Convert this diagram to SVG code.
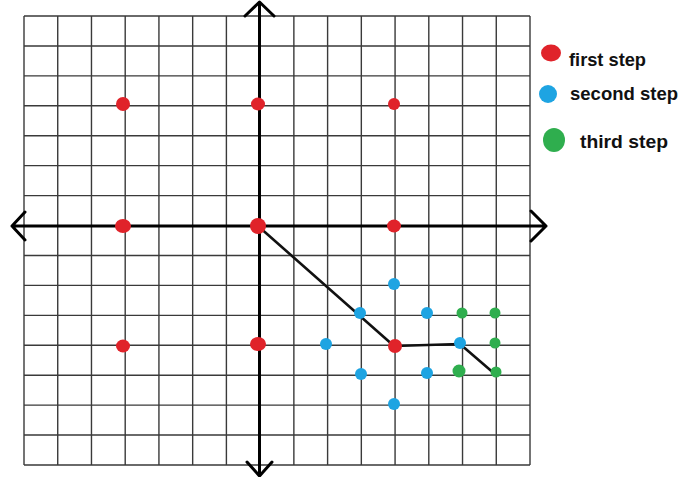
<svg xmlns="http://www.w3.org/2000/svg" width="678" height="477" viewBox="0 0 678 477">
<style>
.grid{stroke:#3a3a3a;stroke-width:1.4;fill:none}
.axis{stroke:#000;stroke-width:3;fill:none;stroke-linecap:round;stroke-linejoin:round}
.walk{stroke:#111;stroke-width:2.6;fill:none;stroke-linejoin:round}
.r{fill:#e0232a}
.b{fill:#1ea4e2}
.g{fill:#2fae4e}
.lbl{font-family:"Liberation Sans",Arial,sans-serif;font-weight:bold;font-size:18.5px;fill:#111}
</style>
<rect width="678" height="477" fill="#fff"/>
<g id="grid">
<path class="grid" d="M24,16V465 M57.73,16V465 M91.47,16V465 M125.2,16V465 M158.93,16V465 M192.67,16V465 M226.4,16V465 M293.87,16V465 M327.6,16V465 M361.33,16V465 M395.07,16V465 M428.8,16V465 M462.53,16V465 M496.27,16V465 M530,16V465
M24,16H530 M24,45.93H530 M24,75.87H530 M24,105.8H530 M24,135.73H530 M24,165.67H530 M24,195.6H530 M24,255.47H530 M24,285.4H530 M24,315.33H530 M24,345.27H530 M24,375.2H530 M24,405.13H530 M24,435.07H530 M24,465H530"/>
</g>
<g id="axes">
<path class="axis" d="M12,226H546 M25,212L12,226L25,240 M531,211L546,226L531,241"/>
<path class="axis" d="M259.5,2V476 M245,16L259.5,2L274,16 M247,462L259.5,476L272,462"/>
</g>
<g id="connectors">
<path class="walk" d="M258,226L394,346L460,344L496,375"/>
</g>
<g id="first-step">
<ellipse class="r" cx="123" cy="104" rx="7" ry="7"/>
<ellipse class="r" cx="258" cy="104" rx="7" ry="6.5"/>
<ellipse class="r" cx="394" cy="104" rx="6" ry="6"/>
<ellipse class="r" cx="123" cy="226" rx="8" ry="7"/>
<ellipse class="r" cx="258" cy="226" rx="8" ry="8"/>
<ellipse class="r" cx="394" cy="226" rx="7" ry="6.5"/>
<ellipse class="r" cx="123" cy="346" rx="7" ry="6.5"/>
<ellipse class="r" cx="258" cy="344" rx="8" ry="7"/>
<ellipse class="r" cx="395" cy="346" rx="7" ry="7"/>
</g>
<g id="second-step">
<circle class="b" cx="394" cy="284" r="6"/>
<circle class="b" cx="427" cy="313" r="6"/>
<circle class="b" cx="360" cy="313" r="6"/>
<circle class="b" cx="326" cy="344" r="6"/>
<circle class="b" cx="460" cy="343" r="6"/>
<circle class="b" cx="361" cy="374" r="6"/>
<circle class="b" cx="427" cy="373" r="6"/>
<circle class="b" cx="394" cy="404" r="6"/>
</g>
<g id="third-step">
<circle class="g" cx="462" cy="313" r="5.5"/>
<circle class="g" cx="495" cy="313" r="5.5"/>
<circle class="g" cx="495" cy="343" r="5.5"/>
<circle class="g" cx="459" cy="371" r="6.5"/>
<circle class="g" cx="496" cy="372" r="5.5"/>
</g>
<g id="legend">
<g id="legend-first"><ellipse class="r" cx="551" cy="53" rx="10" ry="8.5"/><text class="lbl" x="569" y="66" textLength="77" lengthAdjust="spacingAndGlyphs">first step</text></g>
<g id="legend-second"><ellipse class="b" cx="548" cy="94" rx="9" ry="9"/><text class="lbl" x="570" y="100" textLength="108" lengthAdjust="spacingAndGlyphs">second step</text></g>
<g id="legend-third"><ellipse class="g" cx="554" cy="140" rx="11" ry="12"/><text class="lbl" x="580" y="148" textLength="88" lengthAdjust="spacingAndGlyphs">third step</text></g>
</g>
</svg>
